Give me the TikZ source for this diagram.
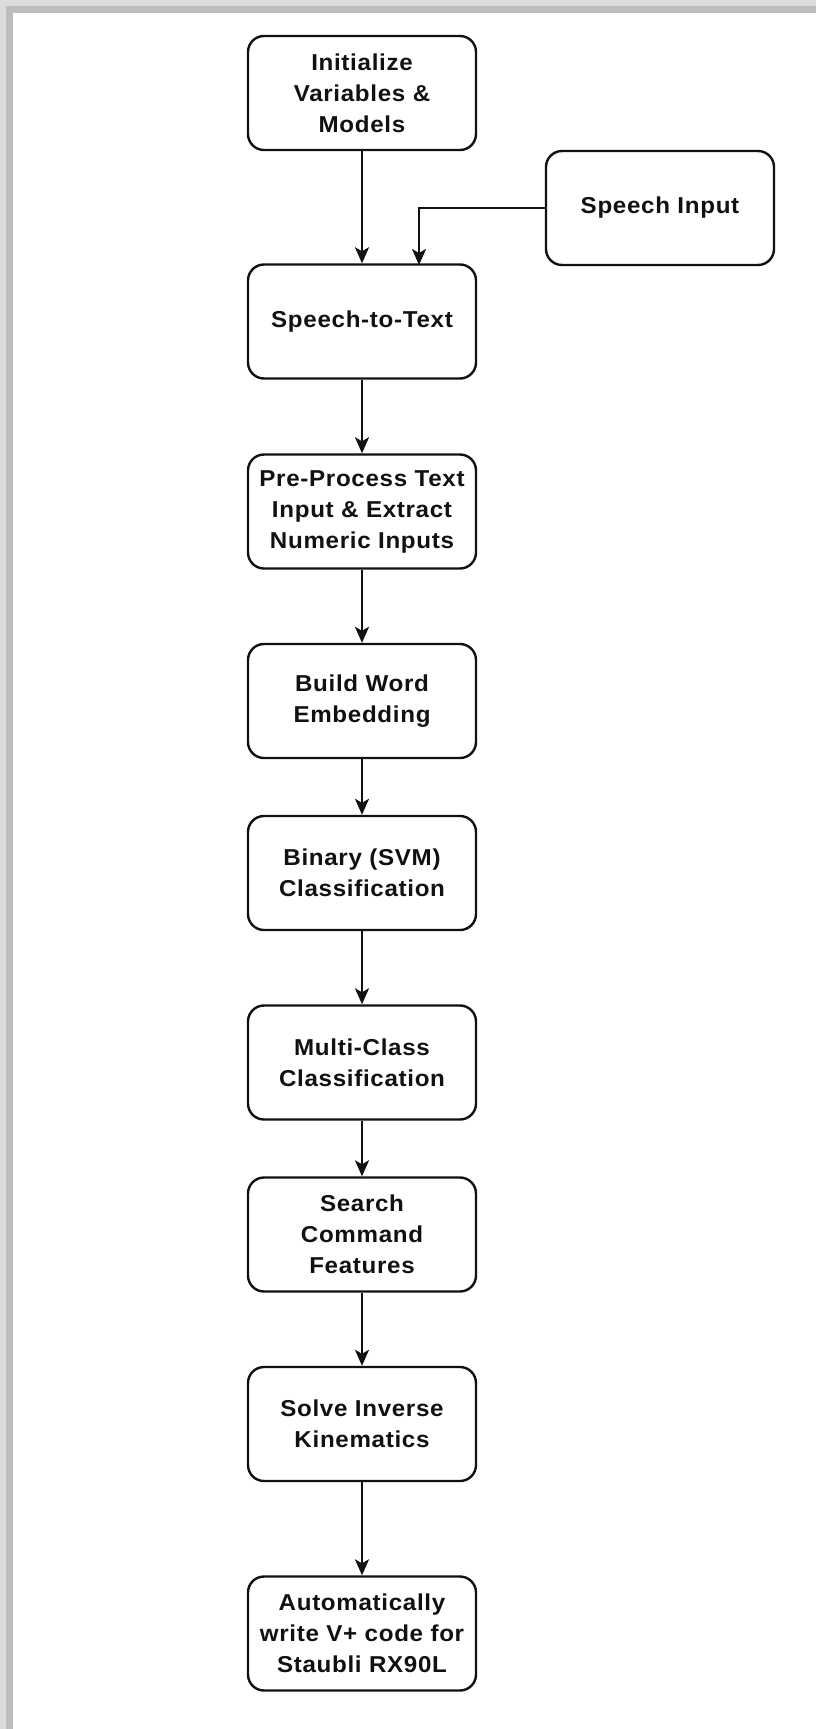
\documentclass[tikz,border=0pt]{standalone}
\usepackage{fontspec}
\setmainfont{Liberation Sans}[FakeStretch=1.05,LetterSpace=3]
\usetikzlibrary{arrows.meta}
\definecolor{frameouter}{HTML}{DCDCDC}
\definecolor{frameinner}{HTML}{BDBDBD}
\definecolor{ink}{HTML}{111111}
\tikzset{
  stepbox/.style={draw=ink, line width=2.4pt, rounded corners=16pt, fill=white,
    minimum width=228pt, minimum height=114pt, inner sep=0pt, align=center,
    font=\fontsize{23pt}{31pt}\selectfont\bfseries, text=ink},
  flow/.style={draw=ink, line width=2.2pt, -{Stealth[length=16pt,width=14pt,inset=4pt]}}
}
\begin{document}
\begin{tikzpicture}[x=1pt,y=-1pt]
  \useasboundingbox (0,0) rectangle (816,1729);
  \fill[white] (0,0) rectangle (816,1729);
  % grey frame along the top and left edges
  \fill[frameouter] (0,0) rectangle (816,6);
  \fill[frameouter] (0,0) rectangle (6,1729);
  \fill[frameinner] (6,6) rectangle (816,13);
  \fill[frameinner] (6,6) rectangle (13,1729);

  % process steps
  \node[stepbox] (init)   at (362,93)    {Initialize\\Variables \&\\Models};
  \node[stepbox] (speech) at (660,208)   {Speech Input};
  \node[stepbox] (stt)    at (362,321.5) {Speech-to-Text};
  \node[stepbox] (pre)    at (362,511.5) {Pre-Process Text\\Input \& Extract\\Numeric Inputs};
  \node[stepbox] (embed)  at (362,701)   {Build Word\\Embedding};
  \node[stepbox] (binary) at (362,873)   {Binary (SVM)\\Classification};
  \node[stepbox] (multi)  at (362,1062.5){Multi-Class\\Classification};
  \node[stepbox] (search) at (362,1234.5){Search\\Command\\Features};
  \node[stepbox] (solve)  at (362,1424)  {Solve Inverse\\Kinematics};
  \node[stepbox] (auto)   at (362,1633.5){Automatically\\write V+ code for\\Staubli RX90L};

  % connectors
  \coordinate (sttin) at (419,265);
  \draw[flow] (init) -- (stt);
  \draw[flow] (speech.west) -| (sttin);
  \draw[flow] (stt) -- (pre);
  \draw[flow] (pre) -- (embed);
  \draw[flow] (embed) -- (binary);
  \draw[flow] (binary) -- (multi);
  \draw[flow] (multi) -- (search);
  \draw[flow] (search) -- (solve);
  \draw[flow] (solve) -- (auto);
\end{tikzpicture}
\end{document}
